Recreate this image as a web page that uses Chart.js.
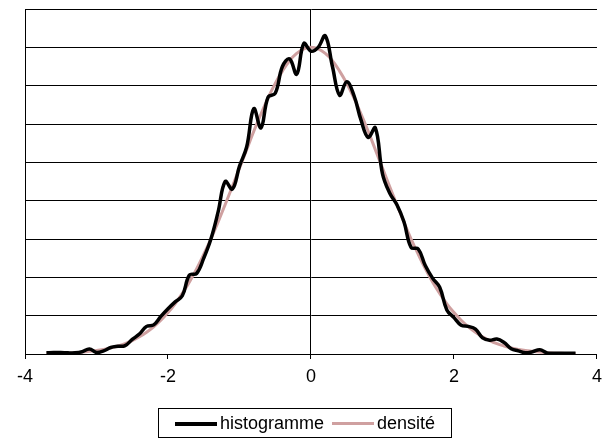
<!DOCTYPE html>
<html>
<head>
<meta charset="utf-8">
<script src="https://cdn.jsdelivr.net/npm/chart.js@4"></script>
<style>
  body { margin: 0; background: #fff; }
  #wrap { position: relative; width: 609px; height: 446px; }
  #legend { position: absolute; left: 158px; top: 408px; width: 294px; height: 30px; border: 1px solid #000;
    font: 18px Arial, "Liberation Sans", sans-serif; display: flex; align-items: center; justify-content: center; gap: 8px; box-sizing: border-box; }
  .sw { display: inline-block; width: 42px; height: 3px; vertical-align: middle; margin-right: 3px; }
</style>
</head>
<body>
<div id="wrap">
  <canvas id="c" width="609" height="446"></canvas>
  <div id="legend">
    <span><span class="sw" style="background:#000;height:4px"></span>histogramme</span>
    <span><span class="sw" style="background:#cfa0a0"></span>densité</span>
  </div>
</div>
<script>
const xs = [-3.7,-3.6,-3.5,-3.4,-3.3,-3.2,-3.1,-3.0,-2.9,-2.8,-2.7,-2.6,-2.5,-2.4,-2.3,-2.2,-2.1,-2.0,-1.9,-1.8,-1.7,-1.6,-1.5,-1.4,-1.3,-1.2,-1.1,-1.0,-0.9,-0.8,-0.7,-0.6,-0.5,-0.4,-0.3,-0.2,-0.1,0,
  0.1,0.2,0.3,0.4,0.5,0.6,0.7,0.8,0.9,1.0,1.1,1.2,1.3,1.4,1.5,1.6,1.7,1.8,1.9,2.0,2.1,2.2,2.3,2.4,2.5,2.6,2.7,2.8,2.9,3.0,3.1,3.2,3.3,3.4,3.5,3.6,3.7];
const histogramme = [0.03,0.04,0.04,0.03,0.03,0.06,0.13,0.04,0.08,0.17,0.2,0.22,0.38,0.52,0.72,0.76,0.98,1.18,1.36,1.52,2.06,2.1,2.5,3.0,3.7,4.5,4.3,4.9,5.4,6.4,5.9,6.7,6.8,7.5,7.7,7.3,8.1,7.9,
  8.0,8.3,7.5,6.75,7.1,6.75,6.1,5.65,5.9,4.7,4.2,3.9,3.45,2.78,2.74,2.3,1.98,1.74,1.15,0.95,0.75,0.72,0.65,0.42,0.36,0.39,0.3,0.14,0.08,0.03,0.06,0.11,0.03,0.02,0.02,0.02,0.02];
const densite = [0.01,0.01,0.02,0.02,0.03,0.05,0.07,0.09,0.12,0.16,0.21,0.27,0.35,0.45,0.57,0.71,0.88,1.08,1.31,1.58,1.88,2.22,2.60,3.00,3.44,3.90,4.37,4.85,5.33,5.81,6.26,6.68,7.06,7.38,7.65,7.84,7.96,8.00,
  7.96,7.84,7.65,7.38,7.06,6.68,6.26,5.81,5.33,4.85,4.37,3.90,3.44,3.00,2.60,2.22,1.88,1.58,1.31,1.08,0.88,0.71,0.57,0.45,0.35,0.27,0.21,0.16,0.12,0.09,0.07,0.05,0.03,0.02,0.02,0.01,0.01];
const xTicks = [-4, -2, 0, 2, 4];

const pts = arr => arr.map((v, i) => ({ x: xs[i], y: v }));

new Chart(document.getElementById('c'), {
  type: 'line',
  data: {
    datasets: [
      { label: 'densité', data: pts(densite), borderColor: '#cfa0a0', borderWidth: 3, pointRadius: 0, tension: 0.4, order: 2 },
      { label: 'histogramme', data: pts(histogramme), borderColor: '#000', borderWidth: 3.5, pointRadius: 0, tension: 0.4, order: 1 }
    ]
  },
  options: {
    responsive: false,
    animation: false,
    layout: { padding: { left: 25, right: 9, top: 9, bottom: 52 } },
    plugins: { legend: { display: false }, tooltip: { enabled: false } },
    scales: {
      x: {
        type: 'linear', min: -4, max: 4,
        afterBuildTicks: s => { s.ticks = xTicks.map(v => ({ value: v })); },
        afterFit: s => { s.height = 40; },
        grid: { color: c => c.tick && c.tick.value === 0 ? '#000' : 'rgba(0,0,0,0)', tickColor: '#000', tickLength: 5, lineWidth: 1 },
        border: { color: '#000' },
        ticks: { color: '#000', padding: 7, font: { family: 'Arial, "Liberation Sans"', size: 18 } }
      },
      y: {
        min: 0, max: 9,
        afterFit: s => { s.width = 0; },
        grid: { color: '#000', drawTicks: false },
        border: { color: '#000' },
        ticks: { display: false, stepSize: 1 }
      }
    }
  }
});
</script>
</body>
</html>
